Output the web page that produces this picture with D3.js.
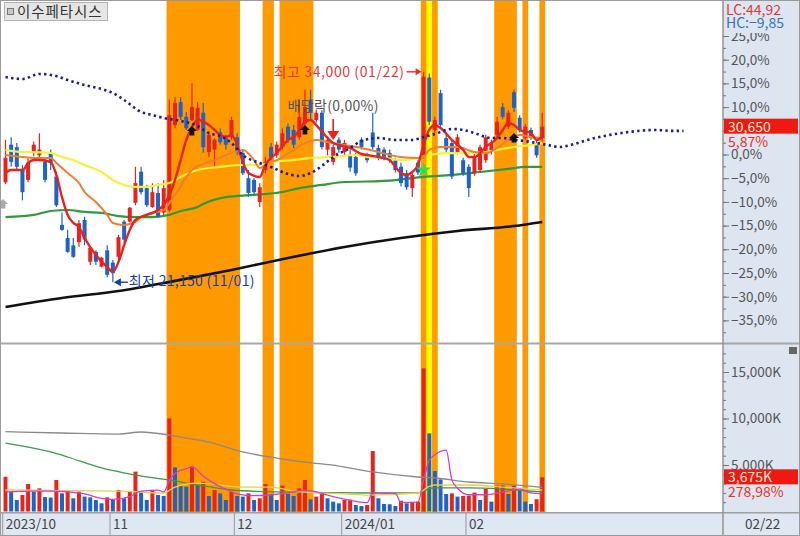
<!DOCTYPE html>
<html><head><meta charset="utf-8">
<script src="https://cdn.jsdelivr.net/npm/d3@7"></script>
<style>body{margin:0;background:#fff;}svg{display:block;font-family:"Noto Sans CJK KR","Noto Sans",sans-serif;}</style>
</head><body><svg id="c" width="800" height="536"></svg>
<script>
// ---------------- DATA ----------------
const stockName = "이수페타시스";
const basePrice = 28950;            // 0,0% reference price
const hiDate = "01/22", loDate = "11/01";
const lastVolPctText = "278,98%";
const axisDateText = "02/22";

const openP = [27250,29550,29400,28000,27400,29050,28900,28500,29050,27600,
24650,23850,23400,23600,24950,22400,23000,22100,23100,22350,
22700,24850,24850,26000,27900,26900,25750,26600,25400,25550,
30750,32150,31250,31050,30450,31500,29100,29250,30300,29950,
30000,30000,29050,27500,27400,26050,28000,29400,28900,29400,
30650,30450,30000,30850,32300,31050,31500,29250,28500,29850,
29100,28900,28800,29850,28900,30300,29350,29250,29050,28600,
28200,27800,26900,28450,28800,33650,30450,32700,29950,29650,
29100,28600,28200,27800,28000,28600,29100,30150,31850,30650,
32750,31200,29950,30450,29650,29950];
const highP = [29850,30000,29650,28300,28750,29750,30250,28750,29250,27900,
25400,24350,23850,24950,25150,23300,23100,22700,23400,22500,
24050,24950,25750,28200,28200,27100,27200,27200,27400,32300,
32450,32450,31550,33300,32150,32100,30300,29950,30550,30150,
31250,30250,29250,28000,27500,27200,28800,29650,29750,30550,
30850,30750,32300,32900,32900,31700,31650,29950,29550,30000,
29850,29250,29050,30000,29050,31500,29550,29400,29250,28750,
28450,28000,27800,28600,34000,33900,31250,32900,30150,29850,
30200,28750,28350,29000,29550,30150,29850,31250,32100,31650,
32900,31350,30800,30600,29850,31500];
const lowP = [27150,28200,28000,26150,27250,28850,28750,27250,28000,25750,
24300,22950,22650,23300,23400,22200,22200,22050,21450,21150,
22400,23550,24800,25850,26500,25750,25700,25100,25250,25450,
30550,31050,30450,31000,30400,29050,28800,28200,29550,29250,
29850,28900,27700,26350,26500,25750,27800,28600,28750,29250,
29650,29350,29850,30650,31050,30900,29250,28900,28300,29050,
28900,27900,27650,29250,28450,29250,28600,28600,28450,27850,
27000,26800,26350,27700,28700,30750,30300,30650,29050,27450,
28950,27650,26350,27650,27850,28450,28950,30000,31100,30500,
31550,30300,29850,29850,28750,29750];
const closeP = [28750,28500,28200,26650,28450,29550,29250,27400,28450,25850,
24350,23000,22700,24750,23750,23250,22400,22650,21600,21700,
23900,23750,25700,27200,26650,25850,26650,25150,26900,31350,
32100,31250,30550,31850,31800,29400,30150,29850,29700,29550,
31050,29100,27800,26600,26650,26950,28500,28750,29550,30250,
29850,29550,31250,31850,31500,31500,29400,29850,29400,29250,
29650,28150,27800,29400,28600,29400,28800,28800,28600,28000,
27200,26950,27700,27850,33700,30950,31050,30750,29250,27600,
30000,27800,26900,28800,29400,30000,29650,30950,31250,31500,
31800,30450,30650,29950,28900,30650];
// volume, thousand shares
const volumeK = [3740,2130,1240,1770,2960,2130,2490,1550,1500,3390,
1950,2310,1420,2130,1600,1520,1240,880,1520,1240,
2310,1420,2130,4280,2130,1240,2310,1770,1670,10020,
4750,2740,2670,4820,2850,3210,1670,2310,1950,1240,
2130,1670,1600,1950,1240,1420,2960,1770,1240,2780,
1880,1670,2490,3390,1310,1600,1880,1420,1060,880,
1240,1280,700,590,700,6500,1420,810,780,590,
1160,880,1000,1060,15390,8400,4350,3460,1880,1950,
1600,1670,1700,2030,1240,2420,1060,2780,2800,1880,
2780,2330,1060,810,1317,3675];

// moving averages: [day index, price]
const maRed = [[0,27820],[1,28000],[3,28000],[4,28430],[5,28610],[6,28610],[8,28490],[9,27700],[10,26350],[11,25260],[12,24770],[13,24520],[14,23850],[16,22810],[18,22080],[19,21780],[20,22390],[21,23420],[22,24340],[23,24950],[25,25260],[27,25560],[28,25870],[29,26480],[30,27390],[31,28610],[32,29840],[33,30630],[34,31060],[36,30750],[37,30450],[38,30140],[39,30020],[40,30140],[41,29530],[42,28490],[43,27820],[45,27580],[46,28310],[47,28740],[48,29040],[50,29840],[51,30020],[52,30450],[53,30930],[54,31060],[55,30750],[57,29960],[58,29650],[59,29530],[61,29350],[63,28980],[64,28920],[66,28800],[68,28610],[69,28190],[70,27820],[71,27700],[72,27880],[73,28310],[74,29530],[75,30450],[76,30750],[77,30570],[79,29840],[81,29230],[82,28800],[83,28800],[85,29410],[87,29960],[88,30450],[89,30870],[90,30750],[91,30450],[93,30260],[94,29840],[95,30020]];
const maOrange = [[0,28920],[3,28800],[5,28740],[8,28740],[9,28430],[11,27820],[13,27210],[14,26660],[16,26050],[18,25260],[19,24770],[21,24650],[23,24830],[24,25130],[26,25380],[28,25560],[29,25990],[30,26480],[33,28000],[37,28610],[40,29040],[42,29230],[44,28610],[45,28130],[47,28490],[48,28610],[51,29230],[53,29650],[55,29840],[57,29710],[60,29530],[63,29350],[66,29100],[70,28800],[73,28740],[74,28800],[75,29230],[77,29410],[80,29410],[83,29100],[85,29040],[87,29350],[89,29840],[91,30140],[93,30020],[95,29960]];
const maYellow = [[0,29230],[3,29100],[5,29100],[8,29040],[10,28800],[12,28610],[14,28310],[17,27880],[19,27390],[21,27090],[23,26970],[25,26970],[27,27090],[29,27210],[31,27580],[34,28000],[38,28190],[42,28310],[45,28310],[47,28490],[51,28610],[54,28740],[58,28800],[62,28920],[64,28800],[67,28740],[70,28610],[73,28740],[75,28920],[78,29040],[82,29040],[85,29100],[87,29230],[90,29410],[93,29530],[95,29650]];
const maGreen = [[0,25130],[5,25260],[8,25500],[11,25560],[14,25440],[17,25380],[20,25190],[23,25130],[26,25130],[29,25260],[31,25500],[34,25740],[35,25930],[39,26350],[44,26480],[49,26660],[52,26900],[56,27090],[60,27270],[64,27300],[69,27390],[74,27580],[79,27700],[84,27880],[89,28070],[92,28190],[95,28190]];
const maBlack = [[0,19640],[10,20190],[20,20610],[30,21230],[40,21900],[50,22630],[60,23300],[70,23850],[80,24280],[90,24580],[95,24830]];
const leadSpan = [[0,33680],[3,33560],[6,33870],[9,33740],[11,33500],[14,33190],[17,32950],[19,32710],[21,32280],[24,31550],[26,31360],[28,31180],[31,31000],[34,30690],[36,30260],[38,30080],[40,29650],[42,28920],[45,28430],[47,28190],[49,27880],[52,27640],[54,27820],[56,28250],[58,28800],[61,29350],[63,29770],[66,29960],[69,29840],[72,29840],[74,30020],[76,30200],[79,30510],[81,30450],[83,30260],[86,29960],[88,29960],[90,29840],[92,29770],[94,29650],[96,29530],[98,29410],[100,29530],[103,29840],[106,30080],[109,30260],[112,30390],[115,30450],[118,30390],[120,30390]];
// volume moving averages: [day index, thousand shares]
const volMaGray = [[0,8580],[10,8440],[20,8330],[24,8550],[29,8220],[32,7900],[36,7470],[42,6400],[48,5750],[53,5320],[59,4890],[65,4250],[73,3710],[76,3600],[82,3170],[88,2960],[95,2600]];
const volMaGreen = [[0,7360],[8,6400],[11,5860],[17,4680],[23,3920],[29,3390],[34,2850],[40,2310],[48,2100],[65,1990],[73,1990],[75,2450],[76,2530],[82,2530],[88,2400],[95,2100]];
const volMaYellow = [[0,2310],[10,2250],[20,2200],[28,1990],[30,2630],[34,3060],[42,2630],[47,2630],[52,2100],[60,1900],[64,1770],[73,1990],[75,2700],[76,2850],[82,2850],[88,2630],[95,2310]];
const volMaPink = [[0,2100],[5,2200],[8,2200],[11,2100],[14,1900],[17,1400],[19,1300],[22,1600],[24,2200],[27,2300],[28,2100],[29,3300],[30,4100],[32,4600],[33,4800],[35,3800],[37,3000],[39,2400],[41,1900],[44,1700],[47,1800],[50,2000],[53,2300],[55,2100],[58,1600],[61,1200],[63,1000],[64,950],[65,2000],[69,1950],[70,950],[73,1000],[74,3400],[75,5500],[76,6100],[78,6600],[79,3400],[80,2500],[82,1800],[85,1800],[88,2100],[91,2400],[93,2000],[95,1900]];

// highlighted day ranges
const orangeBands = [[29,41],[46,47],[49,54],[74,76],[87,90],[92,92],[95,95]];
const yellowBands = [[75,75]];
// signal markers [day, price]
const upSignals = [[33,30390],[53,30450],[90,29960]];
const greenSignals = [[74,28000]];
const graySignals = [[0,25930]];
const exDividend = {day:58, price:29840, label:"배당락(0,00%)"};
// axis
const pctTicks = [25,20,15,10,5,0,-5,-10,-15,-20,-25,-30,-35];
const volTicks = [5000,10000,15000];
const monthTicks = [[0,"2023/10"],[19,"11"],[41,"12"],[60,"2024/01"],[82,"02"]];

// ---------------- DRAW ----------------
const svg = d3.select("#c");
const AX = 723;
const x = d3.scaleLinear().domain([0,95]).range([5.5,542.25]);
const step = x(1)-x(0);
const yPct = d3.scaleLinear().domain([-35,25]).range([320.4,36]);
const pct = p => (p/basePrice-1)*100;
const y = p => yPct(pct(p));
const yVol = d3.scaleLinear().domain([0,15000]).range([511.5,372]);
const UP="#e8221c", DN="#1f63c6";
const fmtPct = v => d3.format(".1f")(v).replace(".",",")+"%";
const fmtPct2 = v => d3.format(".2f")(v).replace(".",",");
const last = closeP[closeP.length-1];

svg.append("rect").attr("width",800).attr("height",536).attr("fill","#fff");
const defs = svg.append("defs");
defs.append("clipPath").attr("id","cp").append("rect").attr("x",1).attr("y",1).attr("width",AX-1).attr("height",341);
defs.append("clipPath").attr("id","cv").append("rect").attr("x",1).attr("y",345).attr("width",AX-1).attr("height",167);

// bands
const bandG = svg.append("g");
orangeBands.forEach(([s,e])=>bandG.append("rect").attr("x",x(s)-step/2).attr("width",x(e)-x(s)+step).attr("y",1).attr("height",511).attr("fill","#ff9900"));
yellowBands.forEach(([s,e])=>bandG.append("rect").attr("x",x(s)-step/2).attr("width",x(e)-x(s)+step).attr("y",1).attr("height",511).attr("fill","#ffff00"));

// price panel
const pg = svg.append("g").attr("clip-path","url(#cp)");
const line = d3.line().x(d=>x(d[0])).y(d=>y(d[1])).curve(d3.curveMonotoneX);
pg.append("path").attr("d",line(maBlack)).attr("fill","none").attr("stroke","#111").attr("stroke-width",2.6);
pg.append("path").attr("d",line(maGreen)).attr("fill","none").attr("stroke","#2e9a3c").attr("stroke-width",2.2);

const days = d3.range(closeP.length);
days.forEach(i=>{
  const up = closeP[i]>=openP[i];
  const col = up?UP:DN;
  pg.append("line").attr("x1",x(i)).attr("x2",x(i)).attr("y1",y(highP[i])).attr("y2",y(lowP[i])).attr("stroke",col).attr("stroke-width",1.2);
  const t = y(Math.max(openP[i],closeP[i])), b = y(Math.min(openP[i],closeP[i]));
  pg.append("rect").attr("x",x(i)-2).attr("width",4).attr("y",t).attr("height",Math.max(1.2,b-t)).attr("fill",col);
});
pg.append("path").attr("d",line(maYellow)).attr("fill","none").attr("stroke","#f4f23a").attr("stroke-width",2.2);
pg.append("path").attr("d",line(maOrange)).attr("fill","none").attr("stroke","#f27d2e").attr("stroke-width",2);
pg.append("path").attr("d",line(maRed)).attr("fill","none").attr("stroke","#e8221c").attr("stroke-width",2.4);
pg.append("path").attr("d",line(leadSpan)).attr("fill","none").attr("stroke","#1d1d9a").attr("stroke-width",2.6).attr("stroke-dasharray","2.4 3.25");

// markers
const arrowUp = "M0,-5 L5,0 L2.4,0 L2.4,4.5 L-2.4,4.5 L-2.4,0 L-5,0 Z";
upSignals.forEach(([d,p])=>pg.append("path").attr("d",arrowUp).attr("transform",`translate(${x(d)},${y(p)})`).attr("fill","#111"));
graySignals.forEach(([d,p])=>pg.append("path").attr("d",arrowUp).attr("transform",`translate(${x(d)-2.5},${y(p)})`).attr("fill","#aaa"));
greenSignals.forEach(([d,p])=>pg.append("path").attr("d",d3.symbol(d3.symbolStar,70)()).attr("transform",`translate(${x(d)},${y(p)})`).attr("fill","#33dd44"));
{
  const ex = x(exDividend.day), ey = y(exDividend.price);
  pg.append("line").attr("x1",ex).attr("x2",ex).attr("y1",ey-21).attr("y2",ey-8).attr("stroke","#e8221c").attr("stroke-width",1.6);
  pg.append("path").attr("d",`M${ex-6},${ey-9} L${ex+6},${ey-9} L${ex},${ey} Z`).attr("fill","#e8221c");
  pg.append("text").attr("x",ex).attr("y",ey-29).attr("text-anchor","middle").attr("font-size",14).attr("letter-spacing",0.3).attr("fill","#555").text(exDividend.label);
}
// high / low labels
const hiIdx = d3.maxIndex(highP), loIdx = d3.minIndex(lowP);
{
  const hx = x(hiIdx)-2, hy = y(highP[hiIdx]);
  pg.append("line").attr("x1",hx-15).attr("x2",hx-3).attr("y1",hy).attr("y2",hy).attr("stroke","#e03030").attr("stroke-width",1.4);
  pg.append("path").attr("d",`M${hx},${hy} L${hx-6},${hy-3.5} L${hx-6},${hy+3.5} Z`).attr("fill","#e03030");
  pg.append("text").attr("x",hx-17).attr("y",hy+5).attr("text-anchor","end").attr("font-size",14).attr("letter-spacing",0.6).attr("fill","#e03a3a")
    .text(`최고 ${d3.format(",")(highP[hiIdx])} (${hiDate})`);
  const lx = x(loIdx)+1, ly = y(lowP[loIdx]);
  pg.append("path").attr("d",`M${lx},${ly} L${lx+7},${ly-4} L${lx+7},${ly+4} Z`).attr("fill","#1a3da6");
  pg.append("line").attr("x1",lx+5).attr("x2",lx+14).attr("y1",ly).attr("y2",ly).attr("stroke","#1a3da6").attr("stroke-width",1.4);
  pg.append("text").attr("x",lx+15).attr("y",ly+4).attr("font-size",14).attr("letter-spacing",0.3).attr("fill","#1a3da6")
    .text(`최저 ${d3.format(",")(lowP[loIdx])} (${loDate})`);
}

// volume panel
const vg = svg.append("g").attr("clip-path","url(#cv)");
days.forEach(i=>{
  const col = (i===0 || volumeK[i]>=volumeK[i-1]) ? UP : DN;
  vg.append("rect").attr("x",x(i)-2).attr("width",4).attr("y",yVol(volumeK[i])).attr("height",yVol(0)-yVol(volumeK[i])).attr("fill",col);
});
const vline = d3.line().x(d=>x(d[0])).y(d=>yVol(d[1])).curve(d3.curveMonotoneX);
[[volMaGray,"#8a8a8a"],[volMaGreen,"#3a9a4a"],[volMaYellow,"#e8cf4a"],[volMaPink,"#d23ed2"]].forEach(([data,c])=>
  vg.append("path").attr("d",vline(data)).attr("fill","none").attr("stroke",c).attr("stroke-width",1.3));

// frames and axis panels
svg.append("rect").attr("x",AX).attr("y",0).attr("width",800-AX).attr("height",536).attr("fill","#dce5f0");
svg.append("rect").attr("x",0).attr("y",513).attr("width",800).attr("height",23).attr("fill","#dfe7f2");
svg.append("line").attr("x1",0).attr("x2",800).attr("y1",343.5).attr("y2",343.5).attr("stroke","#a8a8a8").attr("stroke-width",2);
svg.append("line").attr("x1",0).attr("x2",800).attr("y1",512.8).attr("y2",512.8).attr("stroke","#a0a0a0").attr("stroke-width",1.4);
svg.append("line").attr("x1",AX).attr("x2",AX).attr("y1",0).attr("y2",536).attr("stroke","#8e8e8e").attr("stroke-width",1.4);
svg.append("rect").attr("x",0.5).attr("y",0.5).attr("width",799).attr("height",535).attr("fill","none").attr("stroke","#9a9a9a");

// price axis (labels hidden where the current-price box covers them)
const curY = y(last);
const pa = svg.append("g").attr("transform",`translate(${AX},0)`);
pa.call(d3.axisRight(yPct).tickValues(d3.range(-37.5,27.5,2.5)).tickSize(3).tickFormat(""));
pa.append("g").call(d3.axisRight(yPct).tickValues(pctTicks).tickSize(6).tickPadding(2)
  .tickFormat(d => Math.abs(yPct(d)-curY-7) < 12 ? "" : fmtPct(d)));
pa.selectAll(".domain").remove();
pa.selectAll("line").attr("stroke","#777");
pa.selectAll("text").attr("font-size",13.5).attr("fill","#555").attr("font-family","'Noto Sans CJK KR',sans-serif");

// volume axis
const va = svg.append("g").attr("transform",`translate(${AX},0)`);
va.call(d3.axisRight(yVol).tickValues(d3.range(1000,18000,1000)).tickSize(3).tickFormat(""));
va.append("g").call(d3.axisRight(yVol).tickValues(volTicks).tickSize(6).tickPadding(2).tickFormat(d=>d3.format(",")(d)+"K"));
va.selectAll(".domain").remove();
va.selectAll("line").attr("stroke","#777");
va.selectAll("text").attr("font-size",13.5).attr("fill","#555").attr("font-family","'Noto Sans CJK KR',sans-serif");

// LC / HC header
svg.append("rect").attr("x",AX+1).attr("y",1).attr("width",800-AX-2).attr("height",32).attr("fill","#dce5f0");
svg.append("text").attr("x",726).attr("y",15).attr("font-size",14).attr("fill","#e03a3a").text("LC:"+fmtPct2((last/lowP[loIdx]-1)*100));
svg.append("text").attr("x",726).attr("y",28).attr("font-size",14).attr("fill","#3a6fc4").text("HC:"+fmtPct2((last/highP[hiIdx]-1)*100));

// current price / volume boxes
{
  const cy = curY;
  svg.append("rect").attr("x",AX+1).attr("y",cy-8).attr("width",74).attr("height",15).attr("fill","#ee1a10");
  svg.append("text").attr("x",728).attr("y",cy+5).attr("font-size",14).attr("fill","#ffe8d8").text(d3.format(",")(last));
  svg.append("text").attr("x",728).attr("y",cy+20).attr("font-size",14).attr("fill","#e8332a").text(fmtPct2(pct(last))+"%");
  const vv = volumeK[volumeK.length-1], vy = yVol(vv);
  svg.append("rect").attr("x",AX+1).attr("y",vy-8).attr("width",74).attr("height",15).attr("fill","#ee1a10");
  svg.append("text").attr("x",728).attr("y",vy+5).attr("font-size",14).attr("fill","#ffe8d8").text(d3.format(",")(vv)+"K");
  svg.append("text").attr("x",728).attr("y",vy+20).attr("font-size",14).attr("fill","#e8332a").text(lastVolPctText);
}
// close icon
svg.append("rect").attr("x",789).attr("y",347).attr("width",8).attr("height",7).attr("fill","#666");

// x axis
monthTicks.forEach(([d,lab])=>{
  const tx = x(d)-step/2;
  svg.append("line").attr("x1",tx).attr("x2",tx).attr("y1",513).attr("y2",536).attr("stroke","#999");
  svg.append("text").attr("x",tx+3).attr("y",529).attr("font-size",13.5).attr("fill","#444").text(lab);
});
svg.append("text").attr("x",745).attr("y",529).attr("font-size",13.5).attr("fill","#444").text(axisDateText);

// title
svg.append("rect").attr("x",4.5).attr("y",2.5).attr("width",103).attr("height",18).attr("fill","#e6e6e6").attr("stroke","#b4b4b4");
svg.append("rect").attr("x",7.5).attr("y",8.5).attr("width",6).attr("height",6).attr("fill","#c8c8c8").attr("stroke","#777");
svg.append("text").attr("x",17).attr("y",16.5).attr("font-size",14.5).attr("letter-spacing",0.9).attr("fill","#333").text(stockName);
</script></body></html>
